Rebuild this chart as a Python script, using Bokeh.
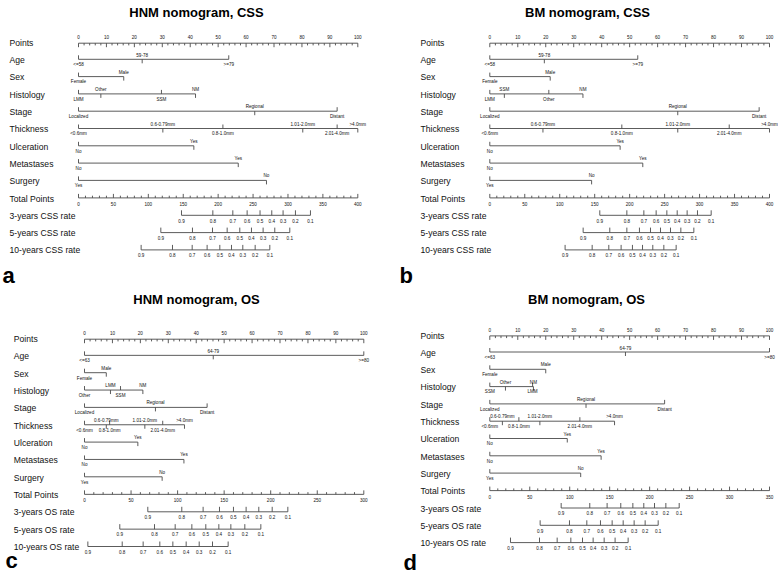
import numpy as np
from bokeh.plotting import figure
from bokeh.layouts import gridplot
from bokeh.models import Range1d
from bokeh.embed import file_html
from bokeh.resources import INLINE
from bokeh.core.properties import value

FONT = "Liberation Sans"
LINE_COLOR = "#4a4a4a"
TEXT_COLOR = "#111111"

VAR_NAMES = ["Age", "Sex", "Histology", "Stage", "Thickness", "Ulceration", "Metastases", "Surgery"]
THICK_LABELS = ["<0.6mm", "0.6-0.79mm", "0.8-1.0mm", "1.01-2.0mm", "2.01-4.0mm", ">4.0mm"]
SEX_LABELS = ["Female", "Male"]
STAGE_LABELS = ["Localized", "Regional", "Distant"]
NOYES = ["No", "Yes"]
SURG_LABELS = ["Yes", "No"]
RATE_VALUES = [0.9, 0.8, 0.7, 0.6, 0.5, 0.4, 0.3, 0.2, 0.1]
RATE_LABELS = ["0.9", "0.8", "0.7", "0.6", "0.5", "0.4", "0.3", "0.2", "0.1"]

# ---- Panel a: HNM nomogram, CSS ----
A_TITLE = "HNM nomogram, CSS"
A_AGE_LABELS = ["<=58", "59-78", ">=79"]
A_AGE = [0, 22.8, 53.8]
A_SEX = [0, 16.2]
A_HIST_LABELS = ["LMM", "Other", "SSM", "NM"]
A_HIST = [0, 8.0, 29.7, 41.9]
A_STAGE = [0, 63.1, 92.6]
A_THICK = [0, 30.2, 51.7, 80.3, 92.6, 100]
A_ULC = [0, 41.3]
A_MET = [0, 57.2]
A_SURG = [0, 67.3]
A_TOTAL_MAX = 400
A_RATE_NAMES = ["3-years CSS rate", "5-years CSS rate", "10-years CSS rate"]
A_3Y = [147.5, 192.4, 221.0, 241.5, 260.0, 276.8, 293.0, 310.7, 332.2]
A_5Y = [117.9, 163.2, 191.9, 212.9, 231.0, 247.7, 264.4, 281.1, 302.6]
A_10Y = [89.7, 134.6, 162.8, 184.2, 202.4, 219.1, 235.3, 253.0, 274.0]

# ---- Panel b: BM nomogram, CSS ----
B_TITLE = "BM nomogram, CSS"
B_AGE_LABELS = ["<=58", "59-78", ">=79"]
B_AGE = [0, 19.5, 52.9]
B_SEX = [0, 21.6]
B_HIST_LABELS = ["LMM", "SSM", "Other", "NM"]
B_HIST = [0, 5.2, 21.1, 33.3]
B_STAGE = [0, 67.2, 96.3]
B_THICK = [0, 19.0, 47.2, 67.2, 85.6, 100]
B_ULC = [0, 46.6]
B_MET = [0, 54.7]
B_SURG = [0, 36.4]
B_TOTAL_MAX = 400
B_RATE_NAMES = ["3-years CSS rate", "5-years CSS rate", "10-years CSS rate"]
B_3Y = [157.3, 196.0, 220.3, 237.9, 253.2, 268.0, 282.2, 297.0, 316.6]
B_5Y = [133.5, 171.6, 196.0, 214.0, 229.8, 244.1, 258.4, 273.2, 291.8]
B_10Y = [107.7, 146.4, 170.2, 187.8, 204.0, 218.4, 233.1, 248.9, 266.5]

# ---- Panel c: HNM nomogram, OS ----
C_TITLE = "HNM nomogram, OS"
C_AGE_LABELS = ["<=63", "64-79", ">=80"]
C_AGE = [0, 46.1, 100]
C_SEX = [0, 7.8]
C_HIST_LABELS = ["Other", "LMM", "SSM", "NM"]
C_HIST = [0, 9.3, 12.9, 20.9]
C_STAGE = [0, 25.4, 43.9]
C_THICK = [0, 7.8, 9.0, 21.6, 28.0, 35.8]
C_ULC = [0, 19.1]
C_MET = [0, 35.6]
C_SURG = [0, 27.8]
C_TOTAL_MAX = 300
C_RATE_NAMES = ["3-years OS rate", "5-years OS rate", "10-years OS rate"]
C_3Y = [68.0, 104.5, 127.4, 145.0, 160.0, 173.6, 187.2, 201.6, 218.4]
C_5Y = [37.9, 75.2, 97.4, 115.3, 130.3, 144.3, 157.2, 172.2, 189.4]
C_10Y = [3.6, 40.5, 63.0, 80.9, 94.9, 109.2, 123.2, 137.5, 154.3]

# ---- Panel d: BM nomogram, OS ----
D_TITLE = "BM nomogram, OS"
D_AGE_LABELS = ["<=63", "64-79", ">=80"]
D_AGE = [0, 48.5, 100]
D_SEX = [0, 20.0]
D_HIST_LABELS = ["SSM", "Other", "LMM", "NM"]
D_HIST = [0, 5.6, 15.3, 15.6]
D_STAGE = [0, 34.4, 62.5]
D_THICK = [0, 4.5, 10.4, 17.9, 32.2, 44.6]
D_ULC = [0, 27.7]
D_MET = [0, 39.8]
D_SURG = [0, 32.5]
D_TOTAL_MAX = 350
D_RATE_NAMES = ["3-years OS rate", "5-years OS rate", "10-years OS rate"]
D_3Y = [89.3, 125.1, 146.8, 163.9, 179.0, 192.7, 206.1, 220.3, 237.0]
D_5Y = [63.0, 99.7, 121.4, 138.5, 153.1, 166.9, 180.6, 194.4, 210.7]
D_10Y = [25.9, 62.2, 84.3, 101.4, 116.0, 129.3, 143.1, 156.8, 173.1]


def spec(title, letter, age_l, age, sex, hist_l, hist, stage, thick, ulc, met, surg, tmax, rnames, r3, r5, r10):
    return dict(
        title=title, letter=letter,
        vars=[(age_l, age), (SEX_LABELS, sex), (hist_l, hist), (STAGE_LABELS, stage),
              (THICK_LABELS, thick), (NOYES, ulc), (NOYES, met), (SURG_LABELS, surg)],
        tmax=tmax, rates=list(zip(rnames, [r3, r5, r10])))


SPEC_A = spec(A_TITLE, "a", A_AGE_LABELS, A_AGE, A_SEX, A_HIST_LABELS, A_HIST, A_STAGE, A_THICK,
              A_ULC, A_MET, A_SURG, A_TOTAL_MAX, A_RATE_NAMES, A_3Y, A_5Y, A_10Y)
SPEC_B = spec(B_TITLE, "b", B_AGE_LABELS, B_AGE, B_SEX, B_HIST_LABELS, B_HIST, B_STAGE, B_THICK,
              B_ULC, B_MET, B_SURG, B_TOTAL_MAX, B_RATE_NAMES, B_3Y, B_5Y, B_10Y)
SPEC_C = spec(C_TITLE, "c", C_AGE_LABELS, C_AGE, C_SEX, C_HIST_LABELS, C_HIST, C_STAGE, C_THICK,
              C_ULC, C_MET, C_SURG, C_TOTAL_MAX, C_RATE_NAMES, C_3Y, C_5Y, C_10Y)
SPEC_D = spec(D_TITLE, "d", D_AGE_LABELS, D_AGE, D_SEX, D_HIST_LABELS, D_HIST, D_STAGE, D_THICK,
              D_ULC, D_MET, D_SURG, D_TOTAL_MAX, D_RATE_NAMES, D_3Y, D_5Y, D_10Y)

# geometry (pixels inside each figure)
GEOM_A = dict(w=389, h=287, x0=78.0, s=2.793, lx=9.0, r0=42.3, step=17.3, tx=196, ty=12, ltx=2, lty=275)
GEOM_B = dict(w=389, h=287, x0=100.3, s=2.797, lx=31.0, r0=42.3, step=17.3, tx=198, ty=12, ltx=10, lty=275)
GEOM_C = dict(w=389, h=287, x0=84.0, s=2.793, lx=13.3, r0=51.3, step=17.35, tx=196, ty=12, ltx=5, lty=273)
GEOM_D = dict(w=389, h=287, x0=100.3, s=2.797, lx=31.0, r0=48.0, step=17.3, tx=197, ty=12, ltx=14, lty=275)

ROW_FONT = "8.6px"
TICK_FONT = "4.6px"


def draw_panel(sp, g):
    W, H, S, fx0 = g["w"], g["h"], g["s"], g["x0"]
    p = figure(width=W, height=H, x_range=Range1d(-fx0 / S, (W - fx0) / S), y_range=Range1d(H, 0),
               output_backend="svg", toolbar_location=None, tools="", min_border=0,
               x_axis_type=None, y_axis_type=None, title=None)
    p.grid.visible = False
    p.outline_line_color = None
    p.background_fill_color = "white"
    p.border_fill_color = "white"

    px = lambda fx: (fx - fx0) / S  # figure pixel -> points units
    segs = dict(x0=[], y0=[], x1=[], y1=[])
    small = dict(x=[], y=[], text=[])
    rows = dict(x=[], y=[], text=[])

    def seg(a, b, c, d):
        segs["x0"].append(a); segs["y0"].append(b); segs["x1"].append(c); segs["y1"].append(d)

    def txt(x, y, t):
        small["x"].append(x); small["y"].append(y); small["text"].append(t)

    def rlab(i, t):
        rows["x"].append(px(g["lx"])); rows["y"].append(g["r0"] + g["step"] * i); rows["text"].append(t)

    rc = lambda i: g["r0"] + g["step"] * i

    # Points scale
    rlab(0, "Points")
    y = rc(0) + 0.4
    seg(0, y, 100, y)
    for v in range(0, 101, 2):
        seg(v, y, v, y + (4.0 if v % 10 == 0 else 2.2))
    for v in range(0, 101, 10):
        txt(v, y - 6.0, str(v))

    # Variable scales
    for i, (name, (labels, pts)) in enumerate(zip(VAR_NAMES, sp["vars"]), start=1):
        rlab(i, name)
        y = rc(i) - 0.8
        seg(min(pts), y, max(pts), y)
        order = np.argsort(pts, kind="stable")
        for k, j in enumerate(order):
            x = pts[j]
            if k % 2 == 0:
                seg(x, y, x, y - 4.0)
                txt(x, y + 5.3, labels[j])
            else:
                seg(x, y, x, y + 4.0)
                txt(x, y - 4.5, labels[j])

    # Total points
    tmax = sp["tmax"]
    f = 100.0 / tmax
    rlab(9, "Total Points")
    y = rc(9) - 0.6
    seg(0, y, 100, y)
    for v in range(0, tmax + 1, 10):
        seg(v * f, y, v * f, y - (4.0 if v % 50 == 0 else 2.2))
    for v in range(0, tmax + 1, 50):
        txt(v * f, y + 6.0, str(v))

    # survival-rate scales
    for k, (name, tp) in enumerate(sp["rates"]):
        rlab(10 + k, name)
        y = rc(10 + k) - 0.5
        xs = [t * f for t in tp]
        seg(min(xs), y, max(xs), y)
        for x, lab in zip(xs, RATE_LABELS):
            seg(x, y, x, y - 5.0)
            txt(x, y + 5.2, lab)

    p.segment(x0="x0", y0="y0", x1="x1", y1="y1", source=segs, line_color=LINE_COLOR, line_width=0.9)
    p.text(x="x", y="y", text="text", source=small, text_font=value(FONT), text_font_size=value(TICK_FONT),
           text_align="center", text_baseline="middle", text_color=TEXT_COLOR)
    p.text(x="x", y="y", text="text", source=rows, text_font=value(FONT), text_font_size=value(ROW_FONT),
           text_align="left", text_baseline="middle", text_color=TEXT_COLOR)
    p.text(x=[px(g["tx"])], y=[g["ty"]], text=[sp["title"]], text_font=value(FONT),
           text_font_size=value("13px"), text_font_style="bold", text_align="center",
           text_baseline="middle", text_color="black")
    p.text(x=[px(g["ltx"])], y=[g["lty"]], text=[sp["letter"]], text_font=value(FONT),
           text_font_size=value("22px"), text_font_style="bold", text_align="left",
           text_baseline="alphabetic", text_color="black")
    return p


pa = draw_panel(SPEC_A, GEOM_A)
pb = draw_panel(SPEC_B, GEOM_B)
pc = draw_panel(SPEC_C, GEOM_C)
pd = draw_panel(SPEC_D, GEOM_D)

grid = gridplot([[pa, pb], [pc, pd]], toolbar_location=None)
open("out.html", "w").write(file_html(grid, INLINE))
